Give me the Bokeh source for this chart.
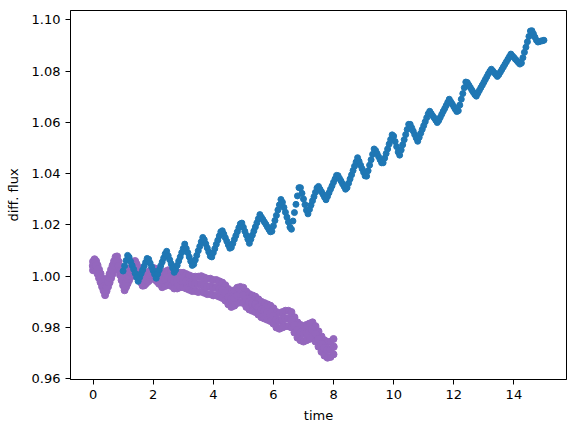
from bokeh.plotting import figure
from bokeh.models import Range1d, FixedTicker, NumeralTickFormatter
from bokeh.embed import file_html
from bokeh.resources import INLINE

# ---- data ----
blue_time = [
    1.00, 1.05, 1.10, 1.15, 1.20, 1.25, 1.30, 1.35, 1.40, 1.45,
    1.50, 1.55, 1.60, 1.65, 1.70, 1.75, 1.80, 1.85, 1.90, 1.95,
    2.00, 2.05, 2.10, 2.15, 2.20, 2.25, 2.30, 2.35, 2.40, 2.45,
    2.50, 2.55, 2.60, 2.65, 2.70, 2.75, 2.80, 2.85, 2.90, 2.95,
    3.00, 3.05, 3.10, 3.15, 3.20, 3.25, 3.30, 3.35, 3.40, 3.45,
    3.50, 3.55, 3.60, 3.65, 3.70, 3.75, 3.80, 3.85, 3.90, 3.95,
    4.00, 4.05, 4.10, 4.15, 4.20, 4.25, 4.30, 4.35, 4.40, 4.45,
    4.50, 4.55, 4.60, 4.65, 4.70, 4.75, 4.80, 4.85, 4.90, 4.95,
    5.00, 5.05, 5.10, 5.15, 5.20, 5.25, 5.30, 5.35, 5.40, 5.45,
    5.50, 5.55, 5.60, 5.65, 5.70, 5.75, 5.80, 5.85, 5.90, 5.95,
    6.00, 6.05, 6.10, 6.15, 6.20, 6.25, 6.30, 6.35, 6.40, 6.45,
    6.50, 6.55, 6.60, 6.65, 6.70, 6.75, 6.80, 6.85, 6.90, 6.95,
    7.00, 7.05, 7.10, 7.15, 7.20, 7.25, 7.30, 7.35, 7.40, 7.45,
    7.50, 7.55, 7.60, 7.65, 7.70, 7.75, 7.80, 7.85, 7.90, 7.95,
    8.00, 8.05, 8.10, 8.15, 8.20, 8.25, 8.30, 8.35, 8.40, 8.45,
    8.50, 8.55, 8.60, 8.65, 8.70, 8.75, 8.80, 8.85, 8.90, 8.95,
    9.00, 9.05, 9.10, 9.15, 9.20, 9.25, 9.30, 9.35, 9.40, 9.45,
    9.50, 9.55, 9.60, 9.65, 9.70, 9.75, 9.80, 9.85, 9.90, 9.95,
    10.00, 10.05, 10.10, 10.15, 10.20, 10.25, 10.30, 10.35, 10.40, 10.45,
    10.50, 10.55, 10.60, 10.65, 10.70, 10.75, 10.80, 10.85, 10.90, 10.95,
    11.00, 11.05, 11.10, 11.15, 11.20, 11.25, 11.30, 11.35, 11.40, 11.45,
    11.50, 11.55, 11.60, 11.65, 11.70, 11.75, 11.80, 11.85, 11.90, 11.95,
    12.00, 12.05, 12.10, 12.15, 12.20, 12.25, 12.30, 12.35, 12.40, 12.45,
    12.50, 12.55, 12.60, 12.65, 12.70, 12.75, 12.80, 12.85, 12.90, 12.95,
    13.00, 13.05, 13.10, 13.15, 13.20, 13.25, 13.30, 13.35, 13.40, 13.45,
    13.50, 13.55, 13.60, 13.65, 13.70, 13.75, 13.80, 13.85, 13.90, 13.95,
    14.00, 14.05, 14.10, 14.15, 14.20, 14.25, 14.30, 14.35, 14.40, 14.45,
    14.50, 14.55, 14.60, 14.65, 14.70, 14.75, 14.80, 14.85, 14.90, 14.95,
    15.00,
]
blue_flux = [
    1.0020, 1.0040, 1.0061, 1.0081, 1.0074, 1.0057, 1.0042, 1.0027, 1.0011, 0.9995,
    0.9980, 0.9995, 1.0010, 1.0024, 1.0039, 1.0054, 1.0069, 1.0066, 1.0051, 1.0036,
    1.0022, 1.0007, 0.9992, 1.0008, 1.0024, 1.0040, 1.0055, 1.0071, 1.0087, 1.0097,
    1.0080, 1.0064, 1.0048, 1.0032, 1.0015, 1.0025, 1.0042, 1.0059, 1.0075, 1.0092,
    1.0108, 1.0125, 1.0108, 1.0092, 1.0075, 1.0058, 1.0042, 1.0046, 1.0063, 1.0081,
    1.0099, 1.0116, 1.0134, 1.0151, 1.0142, 1.0126, 1.0110, 1.0094, 1.0078, 1.0075,
    1.0091, 1.0107, 1.0124, 1.0140, 1.0157, 1.0173, 1.0177, 1.0164, 1.0150, 1.0136,
    1.0122, 1.0109, 1.0112, 1.0127, 1.0143, 1.0158, 1.0173, 1.0189, 1.0204, 1.0207,
    1.0191, 1.0175, 1.0160, 1.0144, 1.0128, 1.0144, 1.0160, 1.0176, 1.0192, 1.0208,
    1.0224, 1.0240, 1.0230, 1.0221, 1.0211, 1.0202, 1.0192, 1.0182, 1.0173, 1.0175,
    1.0196, 1.0217, 1.0237, 1.0258, 1.0278, 1.0299, 1.0288, 1.0268, 1.0249, 1.0230,
    1.0211, 1.0191, 1.0183, 1.0215, 1.0248, 1.0280, 1.0313, 1.0345, 1.0345, 1.0323,
    1.0301, 1.0279, 1.0257, 1.0243, 1.0260, 1.0277, 1.0294, 1.0310, 1.0327, 1.0344,
    1.0350, 1.0339, 1.0329, 1.0319, 1.0308, 1.0298, 1.0311, 1.0325, 1.0339, 1.0352,
    1.0366, 1.0379, 1.0393, 1.0392, 1.0381, 1.0371, 1.0360, 1.0350, 1.0339, 1.0345,
    1.0362, 1.0379, 1.0395, 1.0412, 1.0429, 1.0445, 1.0462, 1.0448, 1.0433, 1.0419,
    1.0405, 1.0391, 1.0390, 1.0411, 1.0433, 1.0454, 1.0475, 1.0496, 1.0490, 1.0478,
    1.0466, 1.0454, 1.0442, 1.0442, 1.0460, 1.0478, 1.0496, 1.0515, 1.0533, 1.0551,
    1.0546, 1.0525, 1.0505, 1.0484, 1.0472, 1.0492, 1.0512, 1.0532, 1.0552, 1.0572,
    1.0592, 1.0592, 1.0579, 1.0566, 1.0552, 1.0539, 1.0526, 1.0541, 1.0557, 1.0572,
    1.0587, 1.0602, 1.0618, 1.0633, 1.0643, 1.0634, 1.0625, 1.0617, 1.0608, 1.0599,
    1.0607, 1.0619, 1.0631, 1.0643, 1.0654, 1.0666, 1.0678, 1.0690, 1.0680, 1.0671,
    1.0661, 1.0651, 1.0642, 1.0645, 1.0667, 1.0690, 1.0712, 1.0735, 1.0757, 1.0755,
    1.0745, 1.0736, 1.0726, 1.0717, 1.0708, 1.0702, 1.0713, 1.0724, 1.0735, 1.0745,
    1.0756, 1.0767, 1.0778, 1.0789, 1.0799, 1.0807, 1.0800, 1.0793, 1.0786, 1.0779,
    1.0786, 1.0796, 1.0806, 1.0816, 1.0826, 1.0836, 1.0846, 1.0856, 1.0866, 1.0859,
    1.0853, 1.0846, 1.0840, 1.0833, 1.0827, 1.0831, 1.0852, 1.0873, 1.0893, 1.0914,
    1.0935, 1.0956, 1.0957, 1.0945, 1.0932, 1.0920, 1.0913, 1.0915, 1.0917, 1.0918,
    1.0920,
]

purple_time = [
    0.00, 0.05, 0.10, 0.15, 0.20, 0.25, 0.30, 0.35, 0.40, 0.45,
    0.50, 0.55, 0.60, 0.65, 0.70, 0.75, 0.80, 0.85, 0.90, 0.95,
    1.00, 1.05, 1.10, 1.15, 1.20, 1.25, 1.30, 1.35, 1.40, 1.45,
    1.50, 1.55, 1.60, 1.65, 1.70, 1.75, 1.80, 1.85, 1.90, 1.95,
    2.00, 2.05, 2.10, 2.15, 2.20,
    2.3, 2.4, 2.5, 2.6, 2.7, 2.8, 2.9,
    3.0, 3.1, 3.2, 3.3, 3.4, 3.5, 3.6, 3.7, 3.8, 3.9,
    4.0, 4.1, 4.2, 4.3, 4.4, 4.5, 4.6, 4.7, 4.8, 4.9,
    5.0, 5.1, 5.2, 5.3, 5.4, 5.5, 5.6, 5.7, 5.8, 5.9,
    6.0, 6.1, 6.2, 6.3, 6.4, 6.5, 6.6, 6.7, 6.8, 6.9,
    7.0, 7.1, 7.2, 7.3, 7.4, 7.5, 7.6, 7.7, 7.8, 7.9,
    8.0,
]
purple_flux = [
    1.0040, 1.0049, 1.0042, 1.0026, 1.0009, 0.9993, 0.9976, 0.9960, 0.9943, 0.9959,
    0.9976, 0.9992, 1.0009, 1.0025, 1.0042, 1.0058, 1.0060, 1.0040, 1.0021, 1.0001,
    0.9981, 0.9962, 0.9975, 0.9988, 1.0001, 1.0014, 1.0026, 1.0039, 1.0042, 1.0030,
    1.0017, 1.0005, 0.9992, 0.9980, 0.9981, 0.9987, 0.9993, 0.9998, 1.0004, 1.0009,
    1.0015, 1.0010, 1.0005, 1.0000, 0.9995,
    0.9985, 0.9990, 0.9995, 0.9990, 0.9980, 0.9980, 0.9985,
    0.9985, 0.9980, 0.9975, 0.9970, 0.9970, 0.9968, 0.9970, 0.9965, 0.9960, 0.9960,
    0.9955, 0.9955, 0.9950, 0.9945, 0.9935, 0.9920, 0.9910, 0.9915, 0.9925, 0.9928,
    0.9925, 0.9910, 0.9900, 0.9895, 0.9890, 0.9880, 0.9870, 0.9865, 0.9860, 0.9855,
    0.9845, 0.9830, 0.9825, 0.9830, 0.9835, 0.9835, 0.9830, 0.9810, 0.9790, 0.9780,
    0.9775, 0.9780, 0.9785, 0.9790, 0.9775, 0.9755, 0.9735, 0.9720, 0.9712, 0.9715,
    0.9725,
]
purple_flux_hi = [
    1.0057, 1.0066, 1.0059, 1.0043, 1.0026, 1.0010, 0.9993, 0.9977, 0.9960, 0.9976,
    0.9993, 1.0009, 1.0026, 1.0042, 1.0059, 1.0075, 1.0077, 1.0057, 1.0038, 1.0018,
    0.9998, 0.9979, 0.9992, 1.0005, 1.0018, 1.0031, 1.0043, 1.0056, 1.0059, 1.0047,
    1.0034, 1.0022, 1.0009, 0.9997, 0.9998, 1.0004, 1.0010, 1.0015, 1.0021, 1.0026,
    1.0032, 1.0030, 1.0027, 1.0023, 1.0020,
    1.0013, 1.0018, 1.0023, 1.0018, 1.0008, 1.0008, 1.0013,
    1.0013, 1.0008, 1.0003, 0.9998, 0.9998, 0.9998, 1.0000, 0.9995, 0.9990, 0.9990,
    0.9985, 0.9985, 0.9980, 0.9975, 0.9965, 0.9950, 0.9940, 0.9945, 0.9955, 0.9958,
    0.9955, 0.9940, 0.9930, 0.9925, 0.9920, 0.9910, 0.9900, 0.9895, 0.9890, 0.9885,
    0.9875, 0.9860, 0.9855, 0.9860, 0.9865, 0.9865, 0.9860, 0.9840, 0.9820, 0.9810,
    0.9805, 0.9810, 0.9815, 0.9820, 0.9805, 0.9785, 0.9765, 0.9750, 0.9742, 0.9745,
    0.9755,
]
purple_flux_lo = [
    1.0023, 1.0032, 1.0025, 1.0009, 0.9992, 0.9976, 0.9959, 0.9943, 0.9926, 0.9942,
    0.9959, 0.9975, 0.9992, 1.0008, 1.0025, 1.0041, 1.0043, 1.0023, 1.0004, 0.9984,
    0.9964, 0.9945, 0.9958, 0.9971, 0.9984, 0.9997, 1.0009, 1.0022, 1.0025, 1.0013,
    1.0000, 0.9988, 0.9975, 0.9963, 0.9964, 0.9970, 0.9976, 0.9981, 0.9987, 0.9992,
    0.9998, 0.9990, 0.9983, 0.9977, 0.9970,
    0.9957, 0.9962, 0.9967, 0.9962, 0.9952, 0.9952, 0.9957,
    0.9957, 0.9952, 0.9947, 0.9942, 0.9942, 0.9938, 0.9940, 0.9935, 0.9930, 0.9930,
    0.9925, 0.9925, 0.9920, 0.9915, 0.9905, 0.9890, 0.9880, 0.9885, 0.9895, 0.9898,
    0.9895, 0.9880, 0.9870, 0.9865, 0.9860, 0.9850, 0.9840, 0.9835, 0.9830, 0.9825,
    0.9815, 0.9800, 0.9795, 0.9800, 0.9805, 0.9805, 0.9800, 0.9780, 0.9760, 0.9750,
    0.9745, 0.9750, 0.9755, 0.9760, 0.9745, 0.9725, 0.9705, 0.9690, 0.9682, 0.9685,
    0.9695,
]

x_ticks = [0, 2, 4, 6, 8, 10, 12, 14]
y_ticks = [0.96, 0.98, 1.00, 1.02, 1.04, 1.06, 1.08, 1.10]

BLUE = "#1f77b4"
PURPLE = "#9467bd"
FONT = "DejaVu Sans"

p = figure(
    width=576, height=432,
    output_backend="svg", toolbar_location=None,
    x_range=Range1d(-0.75, 15.75), y_range=Range1d(0.9597, 1.1036),
    min_border_left=70, min_border_right=10, min_border_top=10, min_border_bottom=53,
    background_fill_color="white", border_fill_color="white",
)
p.grid.visible = False
p.outline_line_color = "black"
p.outline_line_width = 1

p.xaxis.axis_label = "time"
p.yaxis.axis_label = "diff. flux"
p.xaxis.ticker = FixedTicker(ticks=x_ticks)
p.yaxis.ticker = FixedTicker(ticks=y_ticks)
p.xaxis.formatter = NumeralTickFormatter(format="0")
p.yaxis.formatter = NumeralTickFormatter(format="0.00")

for ax in (p.xaxis, p.yaxis):
    ax.axis_line_color = "black"
    ax.major_tick_line_color = "black"
    ax.major_tick_in = 0
    ax.major_tick_out = 5
    ax.minor_tick_line_color = None
    ax.major_label_text_font = FONT
    ax.major_label_text_font_size = "13px"
    ax.major_label_text_color = "black"
    ax.axis_label_text_font = FONT
    ax.axis_label_text_font_size = "13px"
    ax.axis_label_text_font_style = "normal"
    ax.axis_label_text_color = "black"
    ax.major_label_standoff = 5

p.xaxis.axis_label_standoff = 6
p.yaxis.axis_label_standoff = 8

p.scatter(purple_time, purple_flux_hi, size=7, color=PURPLE)
p.scatter(purple_time, purple_flux_lo, size=7, color=PURPLE)
p.scatter(purple_time, purple_flux, size=7.5, color=PURPLE)
p.scatter(blue_time, blue_flux, size=6, color=BLUE)

open("out.html", "w").write(file_html(p, INLINE))
